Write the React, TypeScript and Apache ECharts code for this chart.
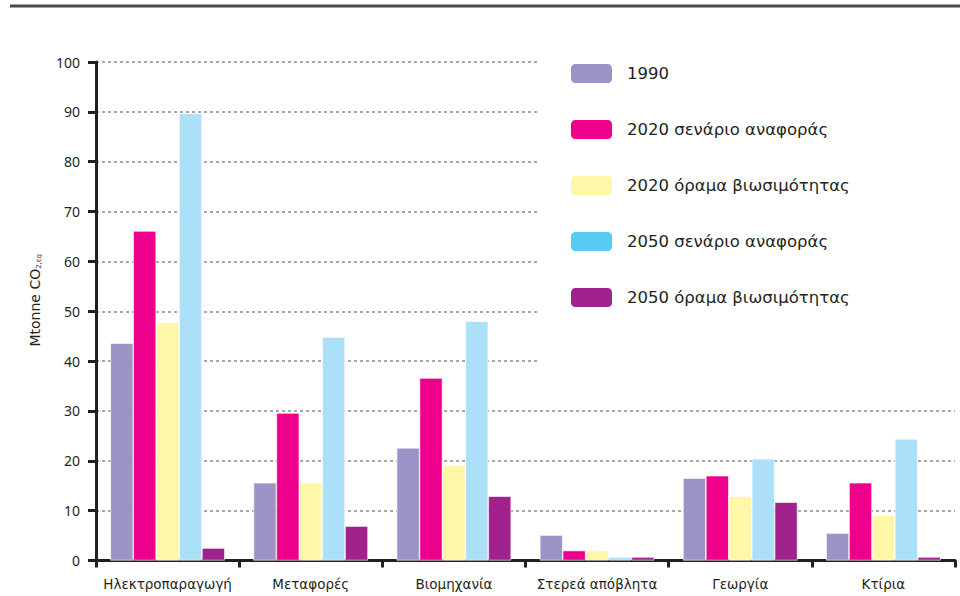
import React, { useEffect, useRef } from "react";
import * as echarts from "echarts";

const categories = ["Ηλεκτροπαραγωγή", "Μεταφορές", "Βιομηχανία", "Στερεά απόβλητα", "Γεωργία", "Κτίρια"];
const seriesNames = [
  "1990",
  "2020 σενάριο αναφοράς",
  "2020 όραμα βιωσιμότητας",
  "2050 σενάριο αναφοράς",
  "2050 όραμα βιωσιμότητας",
];
const v1990 = [43.6, 15.6, 22.6, 5.1, 16.5, 5.5];
const v2020ref = [66.1, 29.6, 36.6, 2.0, 17.0, 15.6];
const v2020sus = [47.8, 15.6, 19.1, 2.0, 12.9, 9.1];
const v2050ref = [89.7, 44.8, 48.0, 0.7, 20.4, 24.4];
const v2050sus = [2.5, 6.9, 12.9, 0.7, 11.7, 0.7];
const yTicks = [0, 10, 20, 30, 40, 50, 60, 70, 80, 90, 100];

const barColors = ["#9c94c7", "#ec008c", "#fff7a8", "#abe0f8", "#a0228c"];
const legendColors = ["#9c94c7", "#ec008c", "#fff7a8", "#58cbf3", "#a0228c"];

export default function App() {
  const ref = useRef<HTMLDivElement>(null);
  useEffect(() => {
    if (!ref.current) return;
    const chart = echarts.init(ref.current, null, { renderer: "svg" });
    const values = [v1990, v2020ref, v2020sus, v2050ref, v2050sus];
    const font = "'Noto Sans', sans-serif";
    const wide = "'DejaVu Sans', sans-serif";
    chart.setOption({
      animation: false,
      textStyle: { fontFamily: font },
      grid: { left: 96, right: 5, top: 62, bottom: 35.5, containLabel: false },
      graphic: [
        {
          type: "line",
          shape: { x1: 10, y1: 6, x2: 960, y2: 6 },
          style: { stroke: "#4a4a4a", lineWidth: 3 },
        },
      ],
      legend: {
        orient: "vertical",
        left: 540,
        top: 40,
        padding: [22, 200, 72, 29],
        backgroundColor: "#ffffff",
        itemWidth: 43,
        itemHeight: 21,
        itemGap: 33,
        textStyle: { fontSize: 16.5, color: "#231f20", fontFamily: wide, padding: [0, 0, 0, 9] },
        data: seriesNames.map((n, i) => ({
          name: n,
          itemStyle: { color: legendColors[i] },
        })),
      },
      xAxis: {
        type: "category",
        data: categories,
        axisLine: { lineStyle: { color: "#231f20", width: 3 } },
        axisTick: { show: true, length: 7, lineStyle: { color: "#231f20", width: 3 } },
        axisLabel: { interval: 0, fontSize: 13.5, color: "#231f20", margin: 16, fontFamily: wide },
      },
      yAxis: {
        type: "value",
        min: 0,
        max: 100,
        interval: 10,
        name: "Mtonne CO{sub|2,εq}",
        nameLocation: "middle",
        nameGap: 54,
        nameRotate: 90,
        nameTextStyle: {
          fontSize: 14,
          color: "#231f20",
          fontFamily: wide,
          padding: [0, 0, 0, 22],
          rich: { sub: { fontSize: 7, color: "#231f20", fontFamily: wide, verticalAlign: "bottom", padding: [6, 0, 0, 0] } },
        },
        axisLine: { show: true, lineStyle: { color: "#231f20", width: 3 } },
        axisTick: { show: true, length: 8, lineStyle: { color: "#231f20", width: 3 } },
        axisLabel: {
          fontSize: 14,
          color: "#231f20",
          margin: 16,
          formatter: (v: number) => (yTicks.includes(v) ? String(v) : ""),
        },
        splitLine: { show: true, lineStyle: { color: "#8a8a8a", type: [3, 3], width: 1.5 } },
      },
      series: seriesNames.map((n, i) => ({
        name: n,
        type: "bar",
        data: values[i],
        barGap: "0%",
        barCategoryGap: "20%",
        itemStyle: { color: barColors[i], borderColor: "#ffffff", borderWidth: 0.6 },
      })),
    });
    return () => chart.dispose();
  }, []);
  return <div ref={ref} style={{ width: 960, height: 596, position: "absolute", left: 0, top: 0 }} />;
}
